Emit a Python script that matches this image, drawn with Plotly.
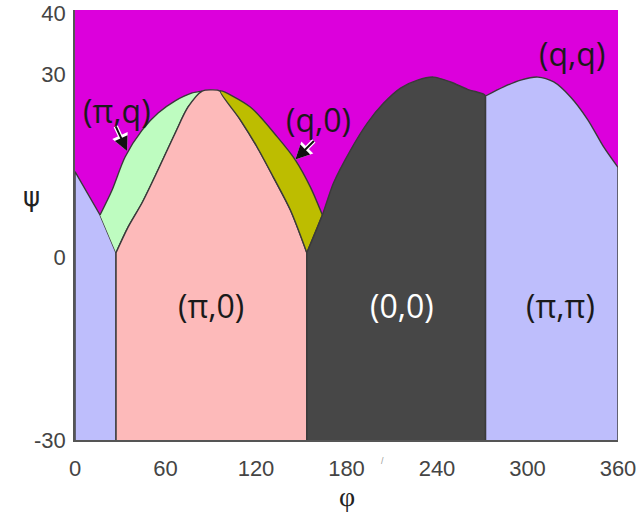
import plotly.graph_objects as go

# ---- boundary curves (phi in degrees, psi) ----
left_line_phi = [0.0, 16.6, 27.2]
left_line_psi = [14.0, 6.9, 0.7]

outer_phi = [16.6, 24.6, 33.2, 44.5, 55.1, 66.4, 77.7, 84.3, 90.0, 96.3, 116.2, 134.1, 146.1, 156.0, 164.0]
outer_psi = [6.9, 11.0, 16.4, 20.8, 23.6, 25.6, 26.9, 27.2, 27.4, 27.2, 24.6, 19.7, 15.9, 11.5, 6.9]

inner_left_phi = [27.2, 35.2, 44.5, 55.1, 66.4, 75.0, 84.3]
inner_left_psi = [0.7, 4.9, 8.9, 14.3, 20.3, 24.6, 27.2]

inner_right_phi = [96.3, 109.6, 120.8, 131.5, 142.8, 153.7]
inner_right_psi = [27.2, 22.5, 18.0, 13.1, 7.7, 0.7]

dark_phi = [153.7, 164.0, 171.3, 182.6, 193.9, 204.5, 215.8, 227.1, 237.7, 249.0, 260.3, 270.9, 272.2]
dark_psi = [0.7, 6.9, 12.1, 17.5, 22.0, 25.2, 27.7, 29.0, 29.5, 28.7, 27.5, 26.7, 26.4]

pipi_phi = [272.2, 284.2, 295.5, 306.8, 317.4, 328.7, 340.0, 350.6, 360.0]
pipi_psi = [26.4, 27.9, 29.0, 29.5, 28.7, 26.2, 22.5, 18.0, 14.7]

psi_min = -30.0

x_ticks = [0, 60, 120, 180, 240, 300, 360]
y_ticks = [-30, 0, 30, 40]

region_labels = ["(π,q)", "(q,0)", "(q,q)", "(π,0)", "(0,0)", "(π,π)"]
label_phi = [27.9, 161.4, 329.4, 90.3, 217.1, 322.0]
label_psi = [24.1, 22.5, 33.3, -7.9, -7.9, -7.9]
label_col = ["#1a1a1a", "#1a1a1a", "#1a1a1a", "#1a1a1a", "#ffffff", "#1a1a1a"]

COL_MAG = "#DC00DC"
COL_BLUE = "#BEBEFC"
COL_GREEN = "#BEFCC0"
COL_PINK = "#FDBABA"
COL_OLIVE = "#BDBD00"
COL_DARK = "#474747"
EDGE = "#3a3a3a"


def seg(phis, psis, lo, hi):
    pts = [(a, b) for a, b in zip(phis, psis) if lo <= a <= hi]
    return [p[0] for p in pts], [p[1] for p in pts]


def sharp_first(xs, ys):
    # repeat the first point so the spline keeps a sharp corner there
    return [xs[0]] + xs, [ys[0]] + ys


def sharp_last(xs, ys):
    return xs + [xs[-1]], ys + [ys[-1]]


polys = []
# left (pi,pi): straight edges
polys.append(([0.0] + left_line_phi + [left_line_phi[-1]],
              [psi_min] + left_line_psi + [psi_min], COL_BLUE, "linear"))
# (pi,q) green band
ox, oy = seg(outer_phi, outer_psi, outer_phi[0], inner_left_phi[-1])
polys.append((ox + inner_left_phi[::-1],
              oy + inner_left_psi[::-1], COL_GREEN, "spline"))
# (pi,0) pink
ilx, ily = sharp_first(inner_left_phi, inner_left_psi)
irx, iry = sharp_last(inner_right_phi, inner_right_psi)
mx, my = seg(outer_phi, outer_psi, inner_left_phi[-1] + 0.01, inner_right_phi[0] - 0.01)
polys.append(([inner_left_phi[0]] + ilx + mx + irx + [inner_right_phi[-1]],
              [psi_min] + ily + my + iry + [psi_min], COL_PINK, "spline"))
# (q,0) olive band
rx, ry = seg(outer_phi, outer_psi, inner_right_phi[0], outer_phi[-1])
dx, dy = seg(dark_phi, dark_psi, dark_phi[0], outer_phi[-1])
polys.append((rx + dx[::-1] + inner_right_phi[::-1],
              ry + dy[::-1] + inner_right_psi[::-1], COL_OLIVE, "spline"))
# (0,0) dark
dkx, dky = sharp_last(*sharp_first(dark_phi, dark_psi))
polys.append(([dark_phi[0]] + dkx + [dark_phi[-1]],
              [psi_min] + dky + [psi_min], COL_DARK, "spline"))
# right (pi,pi)
ppx, ppy = sharp_last(*sharp_first(pipi_phi, pipi_psi))
polys.append(([pipi_phi[0]] + ppx + [pipi_phi[-1]],
              [psi_min] + ppy + [psi_min], COL_BLUE, "spline"))

fig = go.Figure()
for xs, ys, col, shp in polys:
    fig.add_trace(go.Scatter(x=xs, y=ys, mode="lines", fill="toself", fillcolor=col,
                             line=dict(color=EDGE, width=1.4, shape=shp, smoothing=0.8,
                                       simplify=False),
                             hoverinfo="skip", showlegend=False))

ann = []
for t, x, y, c in zip(region_labels, label_phi, label_psi, label_col):
    ann.append(dict(x=x, y=y, xref="x", yref="y", text=t, showarrow=False,
                    font=dict(family="Open Sans", size=32, color=c)))

# arrows (white outline under black arrow)
arrows = [(34.5, 17.4, -12, -26), (146.1, 16.0, 20, -20)]
for x, y, ax, ay in arrows:
    ann.append(dict(x=x, y=y, xref="x", yref="y", ax=ax, ay=ay, text="", showarrow=True,
                    arrowhead=2, arrowsize=0.75, arrowwidth=4.5, arrowcolor="white"))
    ann.append(dict(x=x, y=y, xref="x", yref="y", ax=ax, ay=ay, text="", showarrow=True,
                    arrowhead=2, arrowsize=1.4, arrowwidth=2, arrowcolor="#111111"))

# axis titles
ann.append(dict(x=-0.1, y=0.565, xref="paper", yref="paper", text="ψ", showarrow=False,
                font=dict(family="DejaVu Sans", size=26, color="#222222")))
ann.append(dict(x=0.501, y=-0.172, xref="paper", yref="paper", text="φ", showarrow=False,
                font=dict(family="Liberation Serif", size=28, color="#222222")))
ann.append(dict(x=0.567, y=-0.065, xref="paper", yref="paper", text="/", showarrow=False,
                font=dict(family="Liberation Sans", size=9, color="#9a9a9a")))

fig.update_layout(
    width=640, height=530,
    margin=dict(l=75, r=22, t=10, b=90, autoexpand=False),
    paper_bgcolor="white",
    plot_bgcolor=COL_MAG,
    annotations=ann,
    xaxis=dict(range=[0, 360], tickvals=x_ticks, ticktext=[str(v) for v in x_ticks],
               showgrid=False, zeroline=False, showline=True, linecolor="#555555",
               linewidth=1.5, ticks="", ticklabelstandoff=8, automargin=False,
               ticklabeloverflow="allow",
               tickfont=dict(family="Liberation Sans", size=22, color="#444444")),
    yaxis=dict(range=[-30, 40.5], tickvals=y_ticks, ticktext=[str(v) for v in y_ticks],
               showgrid=False, zeroline=False, showline=True, linecolor="#555555",
               linewidth=1.5, ticks="", ticklabelstandoff=3, automargin=False,
               ticklabeloverflow="allow",
               tickfont=dict(family="Liberation Sans", size=22, color="#444444")),
)

# remove the default 8px page margin so the figure sits at the window's top-left corner
fig.write_html("out.html", config={"displayModeBar": False},
               post_script="document.body.style.margin='0px';")
